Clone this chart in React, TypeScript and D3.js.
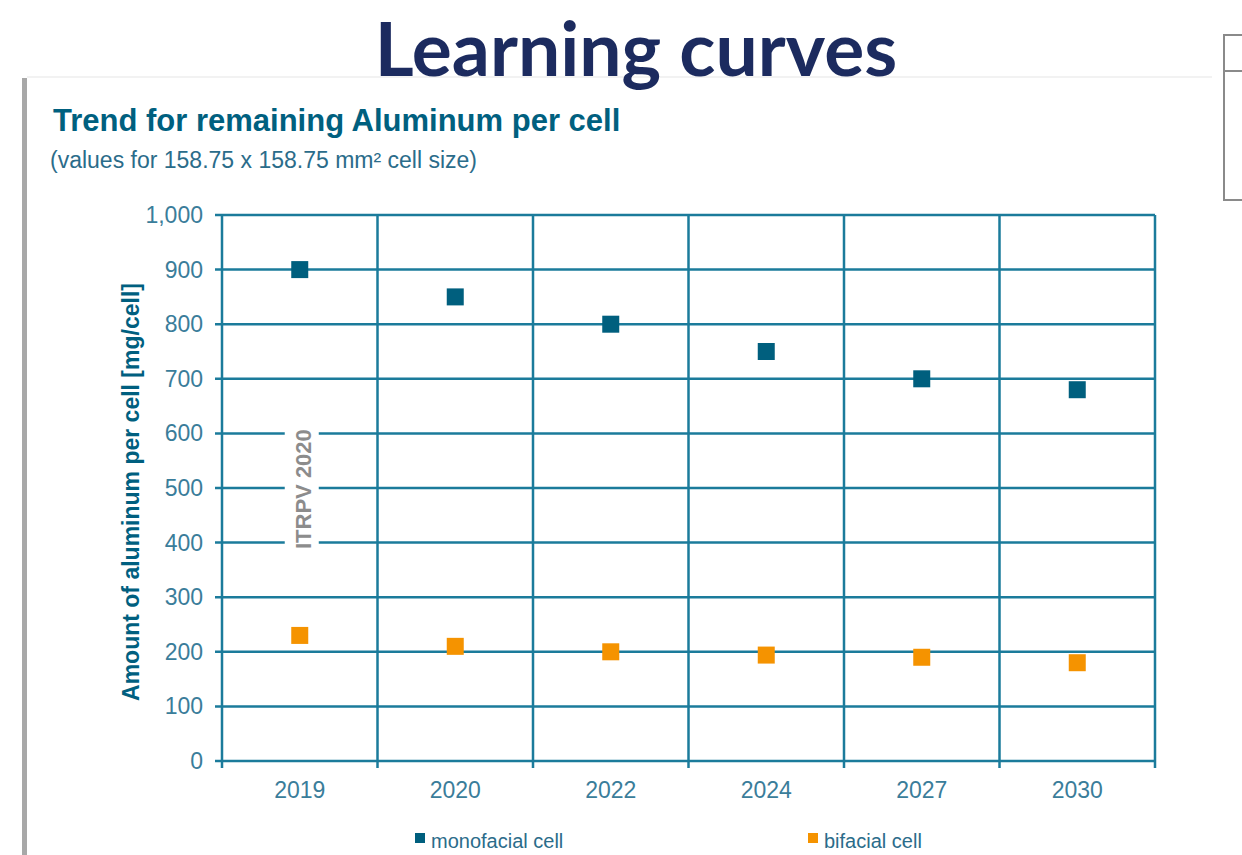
import React, { useEffect, useRef } from 'react';
import * as d3 from 'd3';

const years = ['2019', '2020', '2022', '2024', '2027', '2030'];
const monofacial = [900, 850, 800, 750, 700, 680];
const bifacial = [230, 210, 200, 194, 190, 180];
const yTicks = [0, 100, 200, 300, 400, 500, 600, 700, 800, 900, 1000];

const W = 1242;
const H = 855;
const margin = { top: 215, right: 87, bottom: 94, left: 222 };
const teal = '#1b7b9b';
const mono = '#005f7e';
const orange = '#f59300';
const font = '"Liberation Sans", Arial, sans-serif';

export default function App() {
  const ref = useRef<SVGSVGElement>(null);

  useEffect(() => {
    const svg = d3.select(ref.current);
    svg.selectAll('*').remove();

    const width = W - margin.left - margin.right;
    const height = H - margin.top - margin.bottom;

    const x = d3.scaleBand().domain(years).range([0, width]);
    const y = d3.scaleLinear().domain([0, 1000]).range([height, 0]);

    svg.append('rect').attr('width', W).attr('height', H).attr('fill', '#fff');

    // panel shadow edges
    svg.append('rect').attr('x', 22).attr('y', 78).attr('width', 5).attr('height', H - 78).attr('fill', '#a8a8a8');
    svg.append('rect').attr('x', 27).attr('y', 76).attr('width', 1185).attr('height', 2).attr('fill', '#f2f2f2');

    // right side box
    svg.append('rect').attr('x', 1224).attr('y', 35).attr('width', 30).attr('height', 165)
      .attr('fill', 'none').attr('stroke', '#8a8a8a').attr('stroke-width', 2);
    svg.append('line').attr('x1', 1224).attr('x2', 1242).attr('y1', 71).attr('y2', 71)
      .attr('stroke', '#8a8a8a').attr('stroke-width', 2);

    svg.append('text').attr('x', 636).attr('y', 76).attr('text-anchor', 'middle')
      .attr('font-family', 'Lato, "Open Sans", sans-serif').attr('font-weight', 700)
      .attr('font-size', 75).attr('fill', '#1c2b5f').text('Learning curves');

    svg.append('text').attr('x', 53).attr('y', 131)
      .attr('font-family', font).attr('font-weight', 700)
      .attr('font-size', 31).attr('fill', '#00607f').text('Trend for remaining Aluminum per cell');

    svg.append('text').attr('x', 50).attr('y', 168)
      .attr('font-family', font)
      .attr('font-size', 23).attr('fill', '#2b6c8a').text('(values for 158.75 x 158.75 mm² cell size)');

    const g = svg.append('g').attr('transform', `translate(${margin.left},${margin.top})`);

    // grid
    g.selectAll('.hgrid').data(yTicks).join('line')
      .attr('x1', -7).attr('x2', width)
      .attr('y1', d => y(d)).attr('y2', d => y(d))
      .attr('stroke', teal).attr('stroke-width', 2.5);

    const vlines = years.map(yr => x(yr)!).concat([width]);
    g.selectAll('.vgrid').data(vlines).join('line')
      .attr('x1', d => d).attr('x2', d => d)
      .attr('y1', 0).attr('y2', height + 7)
      .attr('stroke', teal).attr('stroke-width', 2.5);

    // y tick labels
    g.selectAll('.ylab').data(yTicks).join('text')
      .attr('x', -19).attr('y', d => y(d)).attr('dy', '0.35em')
      .attr('text-anchor', 'end')
      .attr('font-family', font)
      .attr('font-size', 23).attr('fill', '#3a7d9a')
      .text(d => d3.format(',')(d));

    // x tick labels
    g.selectAll('.xlab').data(years).join('text')
      .attr('x', d => x(d)! + x.bandwidth() / 2).attr('y', height + 37)
      .attr('text-anchor', 'middle')
      .attr('font-family', font)
      .attr('font-size', 23).attr('fill', '#3a7d9a')
      .text(d => d);

    // watermark
    const wx = x('2019')! + x.bandwidth() / 2 + 3;
    const wy = y(498);
    g.append('rect').attr('x', wx - 18).attr('y', wy - 75).attr('width', 34).attr('height', 150).attr('fill', '#fff');
    g.append('text').attr('transform', `translate(${wx + 8},${wy}) rotate(-90)`)
      .attr('text-anchor', 'middle')
      .attr('font-family', font).attr('font-weight', 700)
      .attr('font-size', 22).attr('fill', '#8c8c8c').text('ITRPV 2020');

    // y axis title
    svg.append('text').attr('transform', `translate(139,${492}) rotate(-90)`)
      .attr('text-anchor', 'middle')
      .attr('font-family', font).attr('font-weight', 700)
      .attr('font-size', 23).attr('fill', '#005f7f').text('Amount of aluminum per cell [mg/cell]');

    const s = 17;
    g.selectAll('.mono').data(monofacial).join('rect')
      .attr('x', (d, i) => x(years[i])! + x.bandwidth() / 2 - s / 2)
      .attr('y', d => y(d) - s / 2).attr('width', s).attr('height', s).attr('fill', mono);
    g.selectAll('.bi').data(bifacial).join('rect')
      .attr('x', (d, i) => x(years[i])! + x.bandwidth() / 2 - s / 2)
      .attr('y', d => y(d) - s / 2).attr('width', s).attr('height', s).attr('fill', orange);

    // legend
    const legend = [
      { label: 'monofacial cell', color: mono, x: 415 },
      { label: 'bifacial cell', color: orange, x: 808 },
    ];
    legend.forEach(l => {
      svg.append('rect').attr('x', l.x).attr('y', 833).attr('width', 10).attr('height', 10).attr('fill', l.color);
      svg.append('text').attr('x', l.x + 16).attr('y', 848)
        .attr('font-family', font)
        .attr('font-size', 20).attr('fill', '#2b6c8a').text(l.label);
    });
  }, []);

  return (
    <div style={{ position: 'absolute', left: 0, top: 0 }}>
      <svg ref={ref} width={W} height={H} style={{ display: 'block' }} />
    </div>
  );
}
